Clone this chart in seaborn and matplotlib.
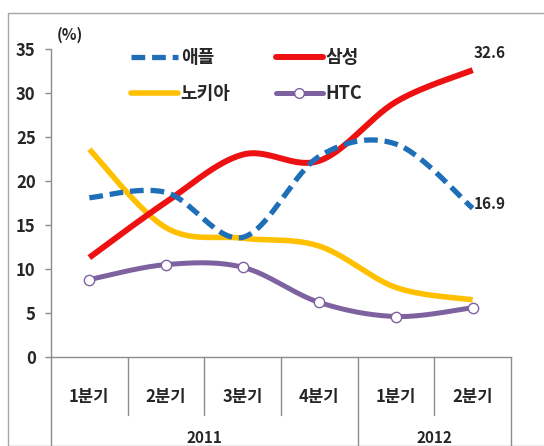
import numpy as np
import pandas as pd
import matplotlib
matplotlib.use("Agg")
import matplotlib.pyplot as plt
import seaborn as sns
from matplotlib.lines import Line2D
from matplotlib.patches import Rectangle

# ---- data ----
quarters = ["1분기", "2분기", "3분기", "4분기", "1분기", "2분기"]
years = ["2011", "2012"]
year_spans = [4, 2]
apple = [18.1, 18.7, 13.6, 22.8, 24.2, 16.9]
samsung = [11.3, 17.6, 23.0, 22.3, 29.0, 32.6]
nokia = [23.6, 14.7, 13.5, 12.6, 7.9, 6.5]
htc = [8.8, 10.5, 10.2, 6.2, 4.6, 5.6]
series_names = ["애플", "삼성", "노키아", "HTC"]
yticks = [0, 5, 10, 15, 20, 25, 30, 35]

sns.set_style("white")
plt.rcParams['font.family'] = ['Noto Sans CJK KR', 'DejaVu Sans']
plt.rcParams['font.weight'] = 'bold'

W, H = 544, 446
fig = plt.figure(figsize=(W / 100, H / 100), dpi=100)
ax = fig.add_axes([51 / W, (H - 357) / H, 460 / W, 308 / H])

GRAY = "#8c8c8c"
colors = {"애플": "#1f6fb8", "삼성": "#ee1111", "노키아": "#ffc000", "HTC": "#7e62a0"}


def smooth(xs, ys, sx=76.7, sy=8.8, n=30):
    """Excel-style smoothed path for drawing (Bezier through the data points)."""
    P = np.column_stack([np.asarray(xs, float) * sx, np.asarray(ys, float) * sy])
    Pe = np.vstack([P[0], P, P[-1]])
    out = []
    for i in range(len(P) - 1):
        p0, p1, p2, p3 = Pe[i], Pe[i + 1], Pe[i + 2], Pe[i + 3]
        c1 = p1 + (p2 - p0) / 6
        c2 = p2 - (p3 - p1) / 6
        t = np.linspace(0, 1, n, endpoint=(i == len(P) - 2))[:, None]
        b = (1 - t) ** 3 * p1 + 3 * (1 - t) ** 2 * t * c1 + 3 * (1 - t) * t ** 2 * c2 + t ** 3 * p2
        out.append(b)
    B = np.vstack(out)
    return B[:, 0] / sx, B[:, 1] / sy


xi = np.arange(len(quarters))
data = {"애플": apple, "삼성": samsung, "노키아": nokia, "HTC": htc}
widths = {"애플": 3.8, "삼성": 4.3, "노키아": 4.0, "HTC": 3.6}
order = ["HTC", "노키아", "삼성", "애플"]
for name in order:
    sx_, sy_ = smooth(xi, data[name])
    df = pd.DataFrame({"x": sx_, "y": sy_})
    sns.lineplot(data=df, x="x", y="y", sort=False, estimator=None, ax=ax,
                 color=colors[name], linewidth=widths[name], legend=False)
    ln = ax.lines[-1]
    ln.set_solid_capstyle("butt")
    if name == "애플":
        ln.set_linestyle((0, (2.6, 1.3)))
        ln.set_dash_capstyle("butt")
    ln.set_zorder(3 + order.index(name))

dfh = pd.DataFrame({"x": xi, "y": htc})
sns.scatterplot(data=dfh, x="x", y="y", ax=ax, s=55, color="white",
                edgecolor=colors["HTC"], linewidth=1.0, zorder=10, legend=False)

ax.set_xlim(-0.5, 5.5)
ax.set_ylim(0, 35)
ax.set_yticks(yticks)
ax.set_yticklabels([str(v) for v in yticks], fontsize=12, fontweight='bold')
ax.set_xticks([])
ax.set_xlabel("")
ax.set_ylabel("")
for s in ["top", "right"]:
    ax.spines[s].set_visible(False)
for s in ["left", "bottom"]:
    ax.spines[s].set_color(GRAY)
    ax.spines[s].set_linewidth(1.0)
ax.tick_params(axis='y', length=4, width=1, color=GRAY, pad=7, left=True)

# category table below axis
kw = dict(transform=ax.transAxes, clip_on=False, color=GRAY, lw=1.0)
n = len(quarters)
for i in range(1, n):
    bottom = -0.30 if i == year_spans[0] else -0.188
    ax.plot([i / n, i / n], [0, bottom], **kw)
ax.plot([0, 0], [0, -0.30], **kw)
ax.plot([1, 1], [0, -0.30], **kw)
for i, q in enumerate(quarters):
    ax.text((i + 0.5) / n, -0.13, q, transform=ax.transAxes, ha='center', va='center',
            fontsize=12, fontweight='bold')
start = 0
for y, span in zip(years, year_spans):
    ax.text((start + span / 2) / n, -0.262, y, transform=ax.transAxes, ha='center',
            va='center', fontsize=11, fontweight='bold')
    start += span

# unit label
fig.text(57 / W, 1 - 35 / H, "(%)", fontsize=11, fontweight='bold', va='center', ha='left')

# end labels
ax.annotate(f"{samsung[-1]:.1f}", (xi[-1], samsung[-1]), xytext=(1, 12),
            textcoords='offset points', ha='left', va='center', fontsize=11, fontweight='bold')
ax.annotate(f"{apple[-1]:.1f}", (xi[-1], apple[-1]), xytext=(1, 3),
            textcoords='offset points', ha='left', va='center', fontsize=11, fontweight='bold')

# legend
handles = [
    Line2D([], [], color=colors["애플"], lw=3.8, linestyle=(0, (2.6, 1.3))),
    Line2D([], [], color=colors["노키아"], lw=4.0),
    Line2D([], [], color=colors["삼성"], lw=4.3),
    Line2D([], [], color=colors["HTC"], lw=3.6, marker='o', markersize=7,
           markerfacecolor='white', markeredgecolor=colors["HTC"], markeredgewidth=1.0),
]
labels = ["애플", "노키아", "삼성", "HTC"]
leg = fig.legend(handles, labels, loc='upper left', bbox_to_anchor=(131 / W, 1 - 48 / H),
                 ncol=2, frameon=False, fontsize=13, handlelength=2.6, handletextpad=0.15,
                 columnspacing=2.5, labelspacing=0.95, borderpad=0, borderaxespad=0)
for t in leg.get_texts():
    t.set_fontweight('bold')

# outer frame
fig.patches.append(Rectangle((8 / W, 0), 1, 1 - 13 / H, transform=fig.transFigure,
                             fill=False, edgecolor="#a6a6a6", lw=1.0))

fig.savefig("out.png", dpi=100)
